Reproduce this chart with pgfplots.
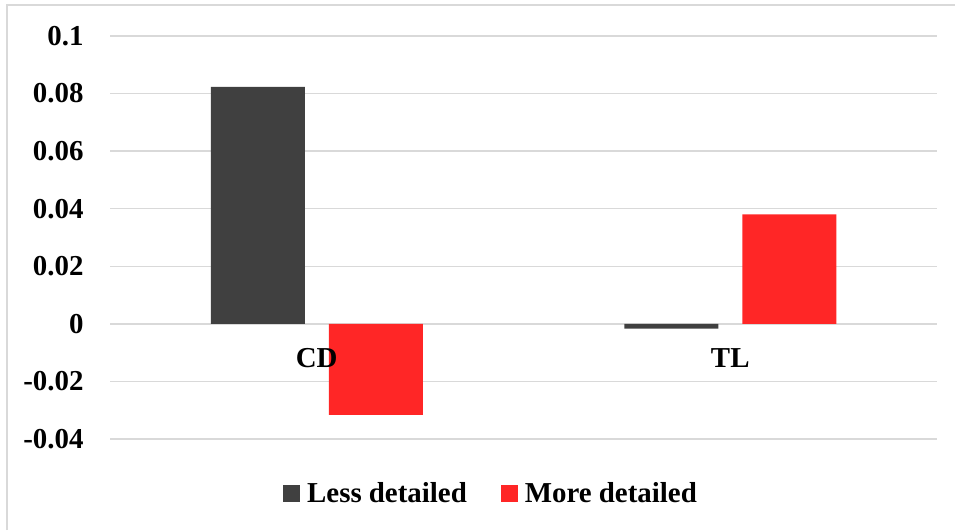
\documentclass[border=0pt]{standalone}
\usepackage{pgfplots}
\pgfplotsset{compat=1.18}
\usepackage{fontspec}
\setmainfont{Liberation Serif}
\definecolor{lessgray}{HTML}{404040}
\definecolor{morered}{HTML}{FF2626}
\definecolor{gridgray}{HTML}{D9D9D9}
% bars above the grid, tick labels above the bars
\pgfplotsset{
  layers/labels on top/.define layer set={
    axis background,axis grid,main,axis tick labels,axis foreground}{
    grid style={/pgfplots/on layer=axis grid},
    tick label style={/pgfplots/on layer=axis tick labels},
    legend style={/pgfplots/on layer=axis foreground},
  },
}
\begin{document}
\begin{tikzpicture}
% chart frame
\draw[gridgray, line width=1.5bp] (7bp,1bp) -- (7bp,526bp) -- (955bp,526bp);
\begin{axis}[
  set layers=labels on top,
  at={(110bp,92bp)}, anchor=south west,
  scale only axis, width=827bp, height=403bp,
  xmin=-0.5, xmax=1.5, ymin=-0.04, ymax=0.1,
  ybar=24bp, bar width=94bp,
  axis line style={draw=none},
  major tick length=0pt,
  xtick={0,1}, xticklabels={CD,TL},
  ytick={-0.04,-0.02,0,0.02,0.04,0.06,0.08,0.1},
  yticklabels={-0.04,-0.02,0,0.02,0.04,0.06,0.08,0.1},
  ymajorgrids, grid style={gridgray, line width=1.5bp},
  tick label style={font=\fontsize{29}{33}\selectfont\bfseries},
  xticklabel style={yshift=94bp},
  yticklabel style={xshift=-23bp},
  legend columns=2,
  legend style={at={(0.4607,-0.134)}, anchor=center, draw=none, fill=none,
    font=\fontsize{29}{33}\selectfont\bfseries,
    /tikz/every even column/.append style={column sep=32bp}},
]
\addplot[fill=lessgray, draw=none,
  legend image code/.code={\fill[lessgray] (0bp,-8.5bp) rectangle (17bp,8.5bp); \path (22bp,0bp);}]
  coordinates {(0,0.0823) (1,-0.0017)};
\addlegendentry{Less detailed}
\addplot[fill=morered, draw=none,
  legend image code/.code={\fill[morered] (0bp,-8.5bp) rectangle (17bp,8.5bp); \path (22bp,0bp);}]
  coordinates {(0,-0.0316) (1,0.038)};
\addlegendentry{More detailed}
\end{axis}
\path (0,0) rectangle (956bp,531bp);
\end{tikzpicture}
\end{document}
